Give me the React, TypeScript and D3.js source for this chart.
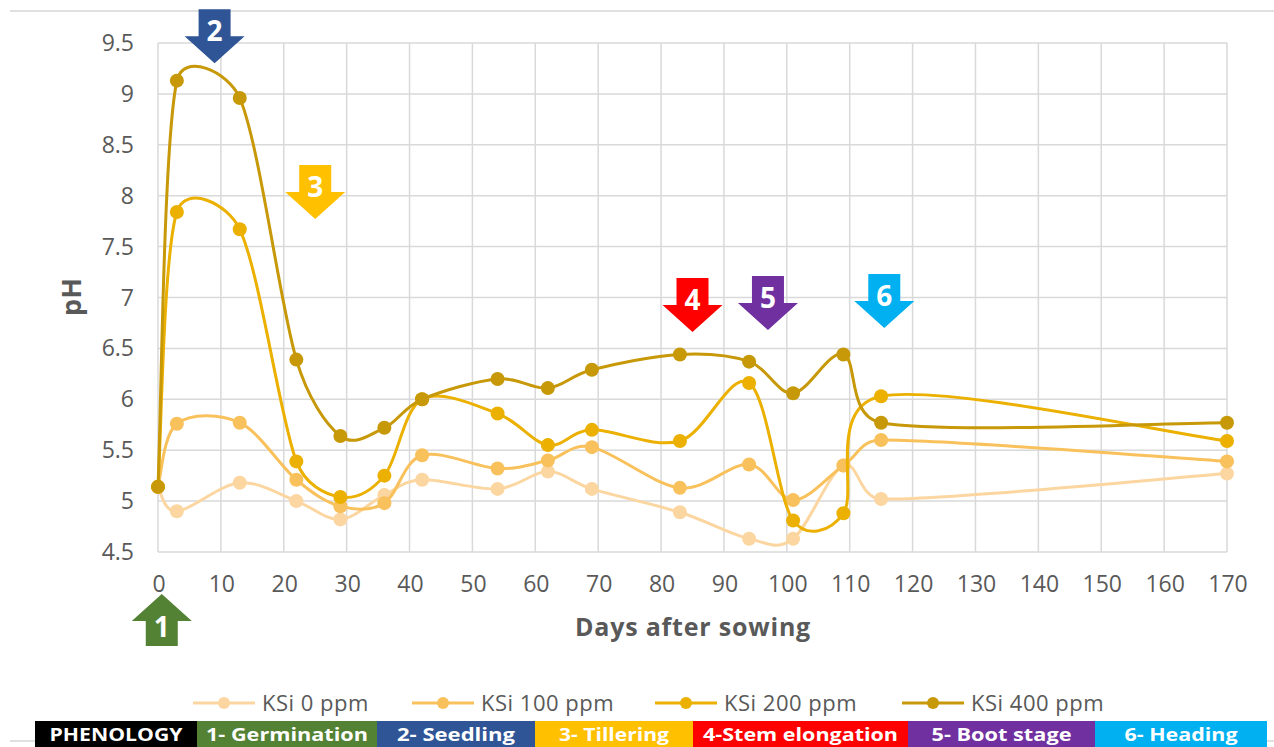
import React from "react";
import * as d3 from "d3";

// ---------- data ----------
const days = [0, 3, 13, 22, 29, 36, 42, 54, 62, 69, 83, 94, 101, 109, 115, 170];
const ksi0 = [5.14, 4.9, 5.18, 5.0, 4.82, 5.06, 5.21, 5.12, 5.29, 5.12, 4.89, 4.63, 4.63, 5.35, 5.02, 5.27];
const ksi100 = [5.14, 5.76, 5.77, 5.21, 4.95, 4.98, 5.45, 5.32, 5.4, 5.53, 5.13, 5.36, 5.01, 5.35, 5.6, 5.39];
const ksi200 = [5.14, 7.84, 7.67, 5.39, 5.04, 5.25, 6.0, 5.86, 5.55, 5.7, 5.59, 6.16, 4.81, 4.88, 6.03, 5.59];
const ksi400 = [5.14, 9.13, 8.96, 6.39, 5.64, 5.72, 6.0, 6.2, 6.11, 6.29, 6.44, 6.37, 6.06, 6.44, 5.77, 5.77];
const seriesNames = ["KSi 0 ppm", "KSi 100 ppm", "KSi 200 ppm", "KSi 400 ppm"];
const xTicks = [0, 10, 20, 30, 40, 50, 60, 70, 80, 90, 100, 110, 120, 130, 140, 150, 160, 170];
const yTicks = [4.5, 5, 5.5, 6, 6.5, 7, 7.5, 8, 8.5, 9, 9.5];
const stageNumbers = ["1", "2", "3", "4", "5", "6"];
const stageDays = [0.6, 9, 25, 85, 97, 115.5];
const stageTipPH = [4.5, 9.3, 7.77, 6.66, 6.68, 6.7];
const stageLabels = ["PHENOLOGY", "1- Germination", "2- Seedling", "3- Tillering", "4-Stem elongation", "5- Boot stage", "6- Heading"];

// ---------- styles / layout ----------
const seriesColors = ["#FCD6A0", "#F9C15C", "#EBB000", "#C79808"];
const stageColors = ["#000000", "#548235", "#2F5597", "#FFC000", "#FF0000", "#7030A0", "#00B0F0"];
const arrowColors = stageColors.slice(1);
const barEdges = [35, 197, 377, 535, 693, 908, 1095, 1267];
const barTextWidths = [133, 162, 118, 110, 195, 140, 113];
const FONT = "'Open Sans', 'Noto Sans', sans-serif";
const GRAY = "#595959";

const W = 1274;
const H = 747;
const left = 158;
const right = 1227;
const top = 43;
const bottom = 552;

function arrowPath(tx: number, ty: number, dir: number, len = 54) {
  const headH = 27;
  const hw = 30;
  const sw = 16;
  const b = ty - dir * headH;
  const t = ty - dir * len;
  return `M${tx},${ty} L${tx - hw},${b} L${tx - sw},${b} L${tx - sw},${t} L${tx + sw},${t} L${tx + sw},${b} L${tx + hw},${b} Z`;
}

// Spreadsheet-like smoothed line: Catmull-Rom legs, clamped relative to segment length
function smoothPath(pts: [number, number][]) {
  const p = d3.path();
  const n = pts.length;
  const k = 0.45;
  p.moveTo(pts[0][0], pts[0][1]);
  for (let i = 0; i < n - 1; i++) {
    const p0 = pts[Math.max(i - 1, 0)];
    const p1 = pts[i];
    const p2 = pts[i + 1];
    const p3 = pts[Math.min(i + 2, n - 1)];
    const seg = Math.hypot(p2[0] - p1[0], p2[1] - p1[1]);
    let l1x = (p2[0] - p0[0]) / 6;
    let l1y = (p2[1] - p0[1]) / 6;
    let l2x = (p3[0] - p1[0]) / 6;
    let l2y = (p3[1] - p1[1]) / 6;
    const m1 = Math.hypot(l1x, l1y);
    const m2 = Math.hypot(l2x, l2y);
    const lim = seg * k;
    if (m1 > lim && m1 > 0) {
      l1x *= lim / m1;
      l1y *= lim / m1;
    }
    if (m2 > lim && m2 > 0) {
      l2x *= lim / m2;
      l2y *= lim / m2;
    }
    p.bezierCurveTo(p1[0] + l1x, p1[1] + l1y, p2[0] - l2x, p2[1] - l2y, p2[0], p2[1]);
  }
  return p.toString();
}

export default function App() {
  const x = d3.scaleLinear().domain([0, 170]).range([left, right]);
  const y = d3.scaleLinear().domain([4.5, 9.5]).range([bottom, top]);
  const allSeries = [ksi0, ksi100, ksi200, ksi400];

  const legendX = [193, 412, 655, 902];
  const legendY = 703;

  return (
    <svg width={W} height={H} style={{ position: "absolute", left: 0, top: 0, background: "#fff" }}>
      <rect x={0} y={0} width={W} height={H} fill="#fff" />
      <line x1={10} x2={W} y1={11} y2={11} stroke="#d6d6d6" strokeWidth={1.5} />
      <line x1={10} x2={W} y1={741} y2={741} stroke="#d6d6d6" strokeWidth={1.5} />

      {xTicks.map((t) => (
        <line key={"gx" + t} x1={x(t)} x2={x(t)} y1={y(9.5)} y2={y(4.5)} stroke="#d9d9d9" strokeWidth={1.5} />
      ))}
      {yTicks.map((t) => (
        <line key={"gy" + t} x1={x(0)} x2={x(170)} y1={y(t)} y2={y(t)} stroke="#d9d9d9" strokeWidth={1.5} />
      ))}

      {yTicks.map((t) => (
        <text key={"ty" + t} x={134} y={y(t)} dy="0.35em" textAnchor="end" fontFamily={FONT} fontSize={23} fill={GRAY}>
          {String(t)}
        </text>
      ))}
      {xTicks.map((t) => (
        <text key={"tx" + t} x={x(t) + 1} y={584} dy="0.35em" textAnchor="middle" fontFamily={FONT} fontSize={23} fill={GRAY}>
          {String(t)}
        </text>
      ))}
      <text x={693} y={627} dy="0.35em" textAnchor="middle" fontFamily={FONT} fontSize={25} letterSpacing={0.8} fontWeight="bold" fill={GRAY}>
        Days after sowing
      </text>
      <text transform={`translate(72,297) rotate(-90)`} dy="0.35em" textAnchor="middle" fontFamily={FONT} fontSize={27} fontWeight="bold" fill={GRAY}>
        pH
      </text>

      {allSeries.map((s, i) => {
        const pts = days.map((d, j) => [x(d), y(s[j])] as [number, number]);
        return (
          <g key={"s" + i}>
            <path d={smoothPath(pts)} fill="none" stroke={seriesColors[i]} strokeWidth={3} />
            {pts.map((p, j) => (
              <circle key={j} cx={p[0]} cy={p[1]} r={7} fill={seriesColors[i]} />
            ))}
          </g>
        );
      })}

      {stageNumbers.map((n, i) => {
        const tx = x(stageDays[i]);
        if (i === 0) {
          const ty = 594;
          return (
            <g key={"a" + i}>
              <path d={arrowPath(tx, ty, -1, 52)} fill={arrowColors[i]} />
              <text x={tx} y={ty + 33} dy="0.35em" textAnchor="middle" fontFamily={FONT} fontSize={28} fontWeight="bold" fill="#fff">
                {n}
              </text>
            </g>
          );
        }
        const ty = y(stageTipPH[i]);
        return (
          <g key={"a" + i}>
            <path d={arrowPath(tx, ty, 1)} fill={arrowColors[i]} />
            <text x={tx} y={ty - 32} dy="0.35em" textAnchor="middle" fontFamily={FONT} fontSize={28} fontWeight="bold" fill="#fff">
              {n}
            </text>
          </g>
        );
      })}

      {seriesNames.map((n, i) => (
        <g key={"l" + i}>
          <line x1={legendX[i]} x2={legendX[i] + 62} y1={legendY} y2={legendY} stroke={seriesColors[i]} strokeWidth={3} />
          <circle cx={legendX[i] + 31} cy={legendY} r={6} fill={seriesColors[i]} />
          <text x={legendX[i] + 69} y={legendY} dy="0.35em" fontFamily={FONT} fontSize={22} letterSpacing={0.5} fill={GRAY}>
            {n}
          </text>
        </g>
      ))}

      {stageLabels.map((lab, i) => (
        <g key={"b" + i}>
          <rect x={barEdges[i]} y={721} width={barEdges[i + 1] - barEdges[i]} height={H - 721} fill={stageColors[i]} />
          <text
            x={(barEdges[i] + barEdges[i + 1]) / 2 - barTextWidths[i] / 2}
            y={741}
            textLength={barTextWidths[i]}
            lengthAdjust="spacingAndGlyphs"
            fontFamily={FONT}
            fontSize={18}
            fontWeight="bold"
            fill="#fff"
          >
            {lab}
          </text>
        </g>
      ))}
    </svg>
  );
}
